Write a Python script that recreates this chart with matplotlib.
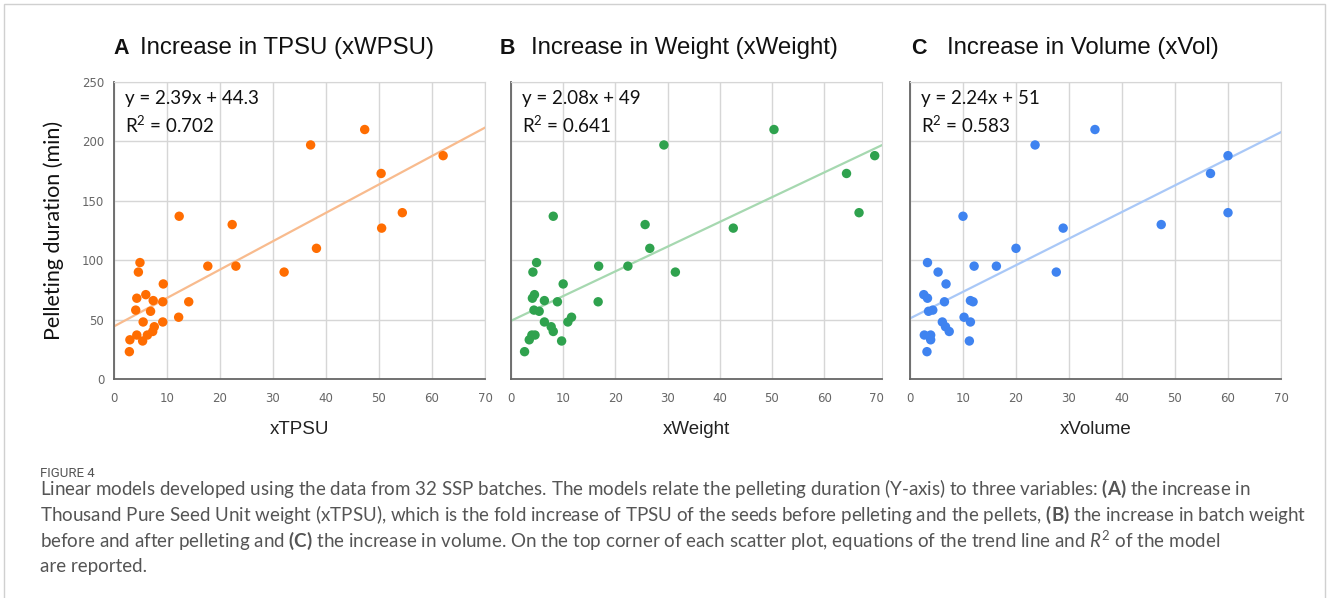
import matplotlib
matplotlib.use('Agg')
import matplotlib.pyplot as plt
from matplotlib.patches import Rectangle

# pelleting duration (min) of the 32 SSP batches, shared by all panels
duration = [23, 32, 33, 37, 37, 40, 44, 48, 48, 52, 57, 58, 65, 65, 66, 68,
            71, 80, 90, 90, 95, 95, 98, 110, 127, 130, 137, 140, 173, 188, 197, 210]

# fold increases, same order as duration
x_tpsu = [2.9, 5.4, 3.0, 4.3, 6.3, 7.3, 7.6, 5.5, 9.2, 12.2, 6.9, 4.1, 9.2, 14.1, 7.4, 4.3,
          6.0, 9.3, 4.6, 32.1, 17.7, 23.0, 4.9, 38.2, 50.5, 22.3, 12.3, 54.4, 50.4, 62.1, 37.1, 47.3]
x_weight = [2.6, 9.7, 3.5, 4.0, 4.6, 8.1, 7.7, 6.4, 10.9, 11.6, 5.4, 4.4, 8.9, 16.7, 6.4, 4.1,
            4.5, 10.0, 4.2, 31.5, 16.8, 22.4, 4.9, 26.6, 42.6, 25.7, 8.1, 66.7, 64.3, 69.7, 29.3, 50.4]
x_volume = [3.2, 11.2, 3.9, 2.7, 3.9, 7.4, 6.7, 6.1, 11.4, 10.2, 3.5, 4.3, 6.5, 11.9, 11.4, 3.3,
            2.6, 6.8, 5.3, 27.6, 12.1, 16.3, 3.3, 20.0, 28.9, 47.4, 10.0, 60.0, 56.7, 60.0, 23.6, 34.9]

# trend lines
slopes = [2.39, 2.08, 2.24]
intercepts = [44.3, 49, 51]
r2 = ['0.702', '0.641', '0.583']
eq_text = ['y = 2.39x + 44.3', 'y = 2.08x + 49', 'y = 2.24x + 51']

letters = ['A', 'B', 'C']
titles = ['Increase in TPSU (xWPSU)', 'Increase in Weight (xWeight)', 'Increase in Volume (xVol)']
xlabels = ['xTPSU', 'xWeight', 'xVolume']
colors = ['#FF6D01', '#2FA24E', '#3F83F0']
line_colors = ['#F8BB8E', '#A6D8B0', '#A9C8F7']

plt.rcParams['mathtext.fontset'] = 'custom'
plt.rcParams['mathtext.rm'] = 'Lato'
plt.rcParams['mathtext.it'] = 'Lato:italic'
plt.rcParams['mathtext.bf'] = 'Lato:bold'

W, H = 1328, 598
fig = plt.figure(figsize=(W / 100, H / 100), dpi=100)

# frame round the whole figure
fig.add_artist(Rectangle((4 / W, -0.02), 1321 / W, 1.02 - 4 / H, transform=fig.transFigure,
                         fill=False, edgecolor='#d0d0d0', linewidth=1))

lefts = [114, 511, 910]
xmax = [70, 71.1, 70]
title_x = [(113, 140), (500, 531), (911, 947)]
xs = [x_tpsu, x_weight, x_volume]

for i in range(3):
    ax = fig.add_axes([lefts[i] / W, 1 - 379 / H, 371 / W, 297 / H])
    ax.set_xlim(0, xmax[i])
    ax.set_ylim(0, 250)
    ax.set_xticks(range(0, 71, 10))
    ax.set_yticks(range(0, 251, 50))
    ax.grid(True, color='#d6d6d6', linewidth=1)
    ax.set_axisbelow(True)
    ax.tick_params(length=0, labelsize=8.5, labelcolor='#666666', pad=7)
    ax.tick_params(axis='x', pad=9)
    if i > 0:
        ax.set_yticklabels([])
    if i == 1:
        ax.xaxis.get_major_ticks()[-1].gridline.set_visible(False)
    for s in ['top', 'right']:
        ax.spines[s].set_color('#d6d6d6')
    for s in ['left', 'bottom']:
        ax.spines[s].set_color('#666666')
        ax.spines[s].set_linewidth(1.3)

    ax.plot([0, xmax[i]], [intercepts[i], intercepts[i] + slopes[i] * xmax[i]],
            color=line_colors[i], linewidth=1.6, zorder=2)
    ax.scatter(xs[i], duration, s=46, color=colors[i], edgecolors='none', zorder=3)

    ax.text(0.03, 0.943, eq_text[i], transform=ax.transAxes, fontsize=13.5,
            family='Lato', color='#111111', va='center')
    ax.text(0.03, 0.855, 'R$^{2}$ = ' + r2[i], transform=ax.transAxes, fontsize=13.5,
            family='Lato', color='#111111', va='center')

    ax.set_xlabel(xlabels[i], fontsize=13.5, family='Liberation Sans', color='#222222', labelpad=12)
    if i == 0:
        ax.set_ylabel('Pelleting duration (min)', fontsize=15.5, family='Lato', color='#111111', labelpad=13)

    lx, tx = title_x[i]
    fig.text(lx / W, 1 - 48 / H, letters[i], fontsize=15.5, fontweight='bold',
             family='Liberation Sans', color='#111111', va='center')
    fig.text(tx / W, 1 - 48 / H, titles[i], fontsize=17.3, family='Liberation Sans',
             color='#111111', va='center')

# caption
cap_color = '#555555'
fig.text(40 / W, 1 - 477 / H, 'FIGURE 4', fontsize=9.5, family='Roboto', color=cap_color, va='baseline')
cap_lines = [
    r'Linear models developed using the data from 32 SSP batches. The models relate the pelleting duration (Y-axis) to three variables: $\mathbf{(A)}$ the increase in',
    r'Thousand Pure Seed Unit weight (xTPSU), which is the fold increase of TPSU of the seeds before pelleting and the pellets, $\mathbf{(B)}$ the increase in batch weight',
    r'before and after pelleting and $\mathbf{(C)}$ the increase in volume. On the top corner of each scatter plot, equations of the trend line and $\mathit{R}^{2}$ of the model',
    r'are reported.',
]
cap_y = [495, 521, 547, 572]
for line, y in zip(cap_lines, cap_y):
    fig.text(40 / W, 1 - y / H, line, fontsize=13.5, family='Lato', color=cap_color, va='baseline')

fig.savefig('out.png', dpi=100)
